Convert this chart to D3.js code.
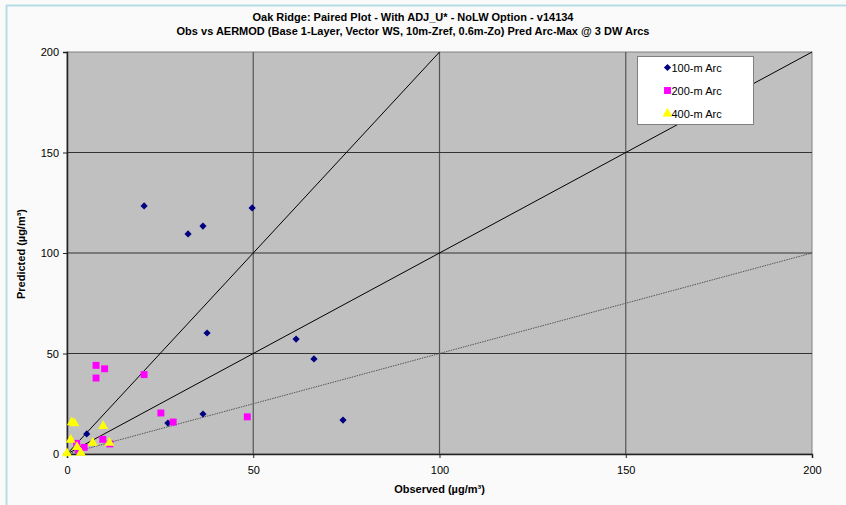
<!DOCTYPE html>
<html>
<head>
<meta charset="utf-8">
<script src="https://cdn.jsdelivr.net/npm/d3@7"></script>
<style>
    body { margin: 0; background: #fafafa; }
    svg { display: block; font-family: "Liberation Sans", Arial, sans-serif; }
    .tick text { font-size: 11px; fill: #000; }
</style>
</head>
<body>
<svg id="chart" width="846" height="505"></svg>
<script>
// observed / predicted pairs
const obs100  = [20.7, 32.5, 36.5, 49.7, 37.6, 61.5, 66.3, 74.1, 36.5, 27.1, 5.3];
const pred100 = [123.4, 109.5, 113.4, 122.4, 60.2, 57.2, 47.3, 16.9, 19.9, 15.4, 10.0];

const obs200  = [7.8, 10.1, 7.8, 20.7, 25.2, 28.5, 48.4, 9.6, 11.5, 2.6, 4.6, 3.1];
const pred200 = [44.1, 42.4, 37.8, 39.5, 20.4, 15.9, 18.5, 7.3, 5.0, 5.3, 3.3, 2.0];

const obs400  = [1.3, 2.0, 9.7, 1.0, 6.9, 11.4, 3.7, 0.0, 2.7];
const pred400 = [15.8, 15.3, 13.9, 7.0, 5.6, 5.6, 0.6, 0.3, 3.5];

const seriesNames = ["100-m Arc", "200-m Arc", "400-m Arc"];
const axisTicks = [0, 50, 100, 150, 200];
// reference lines: predicted = ratio * observed
const refRatios = [2, 1, 0.5];

const svg = d3.select("#chart");
const margin = {left: 67, right: 34, top: 52, bottom: 51};
const width = 846 - margin.left - margin.right;
const height = 505 - margin.top - margin.bottom;

// light blue frame on top and left
svg.append("line").attr("x1", 6.5).attr("x2", 6.5).attr("y1", 5).attr("y2", 505)
    .attr("stroke", "#b7dde4").attr("stroke-width", 2);
svg.append("line").attr("x1", 6).attr("x2", 846).attr("y1", 5.5).attr("y2", 5.5)
    .attr("stroke", "#b7dde4").attr("stroke-width", 2);

const x = d3.scaleLinear().domain([0, 200]).range([0, width]);
const y = d3.scaleLinear().domain([0, 200]).range([height, 0]);

const g = svg.append("g").attr("transform", "translate(" + margin.left + "," + margin.top + ")");

g.append("rect")
    .attr("width", width).attr("height", height)
    .attr("fill", "#c0c0c0").attr("stroke", "#808080");

// gridlines
g.selectAll(".vgrid").data(axisTicks.slice(1, -1)).enter().append("line")
    .attr("x1", d => x(d)).attr("x2", d => x(d))
    .attr("y1", 0).attr("y2", height)
    .attr("stroke", "#555").attr("stroke-width", 1.2);
g.selectAll(".hgrid").data(axisTicks.slice(1, -1)).enter().append("line")
    .attr("x1", 0).attr("x2", width)
    .attr("y1", d => y(d)).attr("y2", d => y(d))
    .attr("stroke", "#333").attr("stroke-width", 1.2);

// reference lines from origin
refRatios.forEach(r => {
    let xe = Math.min(200, 200 / r);
    g.append("line")
        .attr("x1", x(0)).attr("y1", y(0))
        .attr("x2", x(xe)).attr("y2", y(xe * r))
        .attr("stroke", r === 0.5 ? "#555" : "#000")
        .attr("stroke-width", 1)
        .attr("stroke-dasharray", r === 0.5 ? "1.5,1" : null);
});

// axes
let xAxis = g.append("g").attr("transform", "translate(0," + height + ")")
    .call(d3.axisBottom(x).tickValues(axisTicks).tickSize(4).tickPadding(6));
let yAxis = g.append("g")
    .call(d3.axisLeft(y).tickValues(axisTicks).tickSize(4).tickPadding(4));
[xAxis, yAxis].forEach(a => {
    a.select(".domain").attr("stroke", "#222").attr("stroke-width", 1.5);
    a.selectAll(".tick line").attr("stroke", "#222");
    a.selectAll(".tick text").attr("font-family", null).attr("font-size", null);
});
xAxis.selectAll(".tick text").attr("dy", "0.9em");

// markers (diamond = square turned 45 degrees)
const symbols = [d3.symbolSquare, d3.symbolSquare, d3.symbolTriangle];
const rotations = [45, 0, 0];
const colors = ["#000080", "#ff00ff", "#ffff00"];
const sizes = [26, 48, 44];
const seriesData = [
    obs100.map((d, i) => [d, pred100[i]]),
    obs200.map((d, i) => [d, pred200[i]]),
    obs400.map((d, i) => [d, pred400[i]])
];

seriesData.forEach((pts, s) => {
    g.append("g").selectAll("path").data(pts).enter().append("path")
        .attr("d", d3.symbol().type(symbols[s]).size(sizes[s]))
        .attr("transform", d => "translate(" + x(d[0]) + "," + y(d[1]) + ") rotate(" + rotations[s] + ")")
        .attr("fill", colors[s]);
});

// legend
let legend = svg.append("g").attr("transform", "translate(637.5,56.5)");
legend.append("rect").attr("width", 116).attr("height", 68)
    .attr("fill", "#fff").attr("stroke", "#808080");
seriesNames.forEach((name, i) => {
    let item = legend.append("g").attr("transform", "translate(30," + (11 + i * 23) + ")");
    item.append("path")
        .attr("d", d3.symbol().type(symbols[i]).size(sizes[i]))
        .attr("transform", "rotate(" + rotations[i] + ")")
        .attr("fill", colors[i]);
    item.append("text").attr("x", 4).attr("y", 4)
        .attr("font-size", 11).text(name);
});

// titles
svg.append("text").attr("x", 413).attr("y", 21).attr("text-anchor", "middle")
    .attr("font-size", 11).attr("font-weight", "bold")
    .text("Oak Ridge: Paired Plot - With ADJ_U* - NoLW Option - v14134");
svg.append("text").attr("x", 413).attr("y", 35).attr("text-anchor", "middle")
    .attr("font-size", 11).attr("font-weight", "bold")
    .text("Obs vs AERMOD (Base 1-Layer, Vector WS, 10m-Zref, 0.6m-Zo) Pred Arc-Max @ 3 DW Arcs");

svg.append("text").attr("x", margin.left + width / 2).attr("y", 493).attr("text-anchor", "middle")
    .attr("font-size", 11).attr("font-weight", "bold")
    .text("Observed (µg/m³)");
svg.append("text").attr("transform", "translate(25,254) rotate(-90)").attr("text-anchor", "middle")
    .attr("font-size", 11).attr("font-weight", "bold")
    .text("Predicted (µg/m³)");
</script>
</body>
</html>
